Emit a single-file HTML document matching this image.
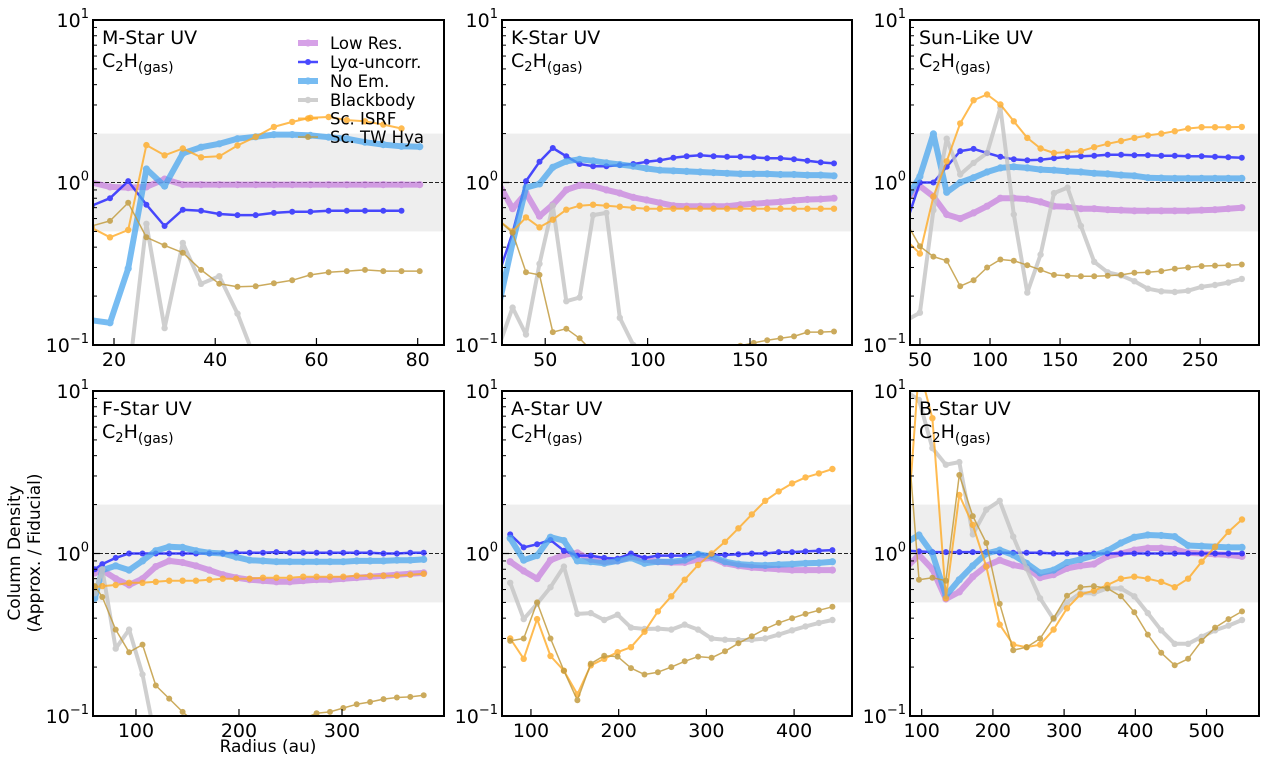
<!DOCTYPE html>
<html><head><meta charset="utf-8"><style>
html,body{margin:0;padding:0;background:#fff;}
svg{display:block;font-family:"DejaVu Sans","Liberation Sans",sans-serif;}
</style></head><body>
<svg id="fig" width="1268" height="765" viewBox="0 0 1268 765" xmlns="http://www.w3.org/2000/svg"></svg>
<script>
// ---- data (ratio Approx./Fiducial vs radius in au) ----
const seriesNames = ["Low Res.","Lyα-uncorr.","No Em.","Blackbody","Sc. ISRF","Sc. TW Hya"];
const yTickValues = [0.1,1,10];
const yTickExps = ["−1","0","1"];

const mX = [15.6,19.2,22.8,26.4,30.0,33.6,37.2,40.8,44.4,48.0,51.6,55.2,58.8,62.4,66.0,69.6,73.2,76.8,80.4];
const mLow = [1.0,0.94,0.93,0.94,1.05,0.97,0.97,0.97,0.97,0.97,0.97,0.97,0.97,0.97,0.97,0.97,0.97,0.97,0.97];
const mLya = [0.72,0.80,1.02,0.73,0.54,0.68,0.67,0.64,0.63,0.63,0.65,0.66,0.66,0.67,0.67,0.67,0.67,0.67,null];
const mNoEm = [0.142,0.137,0.296,1.21,0.95,1.51,1.65,1.73,1.86,1.91,1.97,1.97,1.95,1.9,1.86,1.77,1.71,1.67,1.66];
const mBB = [null,null,0.06,0.557,0.127,0.425,0.238,0.265,0.156,0.08,null,null,null,null,null,null,null,null,null];
const mISRF = [0.526,0.46,0.51,1.70,1.47,1.62,1.43,1.45,1.69,1.91,2.2,2.36,2.5,2.53,2.42,2.38,2.27,2.15,null];
const mTW = [0.54,0.58,0.75,0.46,0.41,0.37,0.29,0.238,0.228,0.23,0.24,0.25,0.27,0.28,0.285,0.29,0.285,0.285,0.285];
const mXTicks = [20,40,60,80];

const kX = [27.6,34.1,40.6,47.2,53.7,60.3,66.8,73.4,79.9,86.4,93.0,99.5,106.0,112.6,119.1,125.7,132.2,138.8,145.3,151.8,158.4,164.9,171.5,178.0,184.5,191.0];
const kLow = [0.97,0.69,0.86,0.62,0.73,0.90,0.96,0.95,0.90,0.86,0.81,0.78,0.75,0.72,0.715,0.715,0.715,0.715,0.73,0.74,0.75,0.76,0.775,0.786,0.79,0.80];
const kLya = [0.28,0.49,1.02,1.34,1.63,1.45,1.30,1.26,1.26,1.28,1.30,1.34,1.37,1.42,1.45,1.47,1.45,1.44,1.44,1.43,1.41,1.41,1.39,1.36,1.33,1.31];
const kNoEm = [0.18,0.425,0.93,0.98,1.24,1.35,1.39,1.36,1.32,1.29,1.26,1.22,1.19,1.18,1.17,1.16,1.15,1.14,1.13,1.13,1.13,1.12,1.12,1.11,1.11,1.10];
const kBB = [0.10,0.17,0.116,0.316,0.72,0.186,0.196,0.63,0.65,0.147,0.10,0.08,null,null,null,null,null,null,null,null,null,null,null,null,null,null];
const kISRF = [0.58,0.50,0.61,0.53,0.59,0.68,0.72,0.73,0.72,0.71,0.70,0.69,0.69,0.69,0.69,0.69,0.69,0.69,0.69,0.69,0.69,0.69,0.69,0.69,0.69,0.69];
const kTW = [0.58,0.49,0.28,0.27,0.12,0.126,0.11,0.09,0.085,0.08,0.075,0.07,0.07,0.07,0.072,0.075,0.08,0.085,0.099,0.103,0.107,0.11,0.113,0.12,0.12,0.121];
const kXTicks = [50,100,150];

const sX = [40.4,50,59.6,69.1,78.7,88.3,97.9,107.4,117,126.6,136.1,145.7,155.3,164.9,174.4,184,193.6,203.1,212.7,222.3,231.9,241.4,251,260.6,270.1,279.7];
const sLow = [0.79,0.95,0.82,0.635,0.60,0.65,0.715,0.80,0.80,0.79,0.76,0.715,0.71,0.69,0.69,0.68,0.675,0.67,0.67,0.67,0.67,0.67,0.675,0.68,0.69,0.70];
const sLya = [0.565,1.0,1.0,1.25,1.56,1.61,1.52,1.44,1.39,1.37,1.38,1.41,1.44,1.45,1.46,1.48,1.48,1.47,1.47,1.46,1.46,1.45,1.45,1.44,1.43,1.42];
const sNoEm = [0.79,1.09,1.99,0.87,1.0,1.07,1.16,1.23,1.25,1.23,1.20,1.19,1.17,1.16,1.14,1.13,1.11,1.10,1.07,1.065,1.06,1.06,1.06,1.06,1.06,1.06];
const sBB = [0.142,0.158,0.675,1.86,1.12,1.32,1.52,2.88,0.635,0.21,0.36,0.86,0.93,0.54,0.325,0.28,0.268,0.247,0.222,0.214,0.212,0.216,0.228,0.234,0.242,0.255];
const sISRF = [0.44,0.365,0.82,1.35,2.31,3.21,3.48,3.02,2.38,1.88,1.62,1.52,1.54,1.56,1.65,1.73,1.80,1.88,1.95,2.0,2.07,2.15,2.19,2.19,2.19,2.2];
const sTW = [0.565,0.405,0.35,0.33,0.23,0.25,0.30,0.336,0.33,0.31,0.29,0.27,0.267,0.265,0.265,0.267,0.27,0.278,0.28,0.285,0.295,0.30,0.306,0.308,0.31,0.313];
const sXTicks = [50,100,150,200,250];

const fX = [60,67.3,80.3,93.3,106.3,119.3,132.3,145.3,158.3,171.3,184.3,197.3,210.3,223.3,236.3,249.3,262.3,275.3,288.3,301.3,314.3,327.3,340.3,353.3,366.3,379.3];
const fLow = [0.76,0.79,0.70,0.64,0.70,0.83,0.90,0.88,0.84,0.79,0.74,0.71,0.69,0.68,0.67,0.67,0.68,0.69,0.69,0.70,0.71,0.72,0.73,0.74,0.75,0.76];
const fLya = [0.80,0.86,0.94,1.0,1.0,1.0,1.0,1.0,1.0,1.0,1.0,1.01,1.01,1.01,1.02,1.01,1.01,1.01,1.01,1.01,1.01,1.01,1.0,1.0,1.01,1.01];
const fNoEm = [0.53,0.79,0.84,0.79,0.90,1.04,1.10,1.09,1.04,1.01,1.0,0.95,0.91,0.90,0.89,0.89,0.89,0.89,0.89,0.89,0.90,0.90,0.90,0.91,0.91,0.92];
const fBB = [0.57,0.80,0.26,0.34,0.18,0.07,null,null,null,null,null,null,null,null,null,null,null,null,null,null,null,null,null,null,null,null];
const fISRF = [0.62,0.63,0.64,0.66,0.66,0.67,0.68,0.68,0.68,0.69,0.70,0.70,0.70,0.71,0.71,0.71,0.72,0.72,0.72,0.72,0.73,0.73,0.73,0.73,0.74,0.75];
const fTW = [0.63,0.54,0.34,0.247,0.275,0.154,0.128,0.106,0.09,0.085,0.08,0.078,0.078,0.08,0.085,0.09,0.096,0.104,0.106,0.112,0.118,0.122,0.127,0.13,0.131,0.134];
const fXTicks = [100,200,300];

const aX = [76.4,91.7,107,122.3,137.6,152.9,168.2,183.5,198.8,214.1,229.4,244.7,260,275.3,290.6,305.9,321.2,336.5,351.8,367.1,382.4,397.7,413,428.3,443.6];
const aLow = [0.89,0.78,0.70,0.91,0.98,1.01,0.92,0.89,0.90,0.96,0.92,0.89,0.88,0.88,0.92,0.94,0.87,0.84,0.82,0.81,0.80,0.79,0.79,0.79,0.79];
const aLya = [1.31,1.09,1.14,1.21,1.04,0.97,0.97,0.94,0.93,1.0,0.94,0.97,0.97,0.97,0.99,0.98,0.98,0.99,1.0,1.0,1.02,1.02,1.03,1.04,1.05];
const aNoEm = [1.24,0.91,0.97,1.26,1.20,0.90,0.89,0.87,0.90,0.94,0.87,0.89,0.89,0.91,0.99,0.96,0.89,0.86,0.85,0.845,0.855,0.86,0.87,0.875,0.89];
const aBB = [0.66,0.395,0.49,0.62,0.83,0.425,0.43,0.39,0.42,0.35,0.343,0.345,0.34,0.365,0.34,0.30,0.295,0.293,0.295,0.30,0.317,0.337,0.356,0.374,0.39];
const aISRF = [0.30,0.225,0.395,0.234,0.19,0.136,0.205,0.225,0.247,0.265,0.33,0.44,0.545,0.69,0.85,1.0,1.18,1.43,1.74,2.11,2.41,2.70,2.94,3.11,3.31];
const aTW = [0.29,0.30,0.50,0.30,0.19,0.125,0.21,0.235,0.232,0.197,0.18,0.186,0.20,0.217,0.232,0.228,0.25,0.28,0.31,0.343,0.374,0.40,0.425,0.447,0.47];
const aXTicks = [100,200,300,400];

const bX = [77.3,96.2,115.1,134,152.9,171.8,190.7,209.6,228.5,247.4,266.3,285.2,304.1,323,341.9,360.8,379.7,398.6,417.5,436.4,455.3,474.2,493.1,512,530.9,549.8];
const bLow = [0.81,0.98,0.80,0.525,0.58,0.72,0.84,0.91,0.85,0.82,0.71,0.74,0.81,0.84,0.86,0.96,1.0,1.05,1.08,1.08,1.06,1.01,1.0,0.99,0.98,0.96];
const bLya = [1.04,1.03,1.02,1.02,1.02,1.02,1.02,1.01,1.01,1.01,1.01,1.0,1.0,1.0,1.0,1.0,1.0,1.0,1.0,1.0,1.0,1.0,1.0,1.0,1.0,1.0];
const bNoEm = [1.16,1.30,1.0,0.55,0.69,0.84,1.0,1.05,0.98,0.87,0.76,0.79,0.88,0.92,0.97,1.04,1.16,1.26,1.30,1.29,1.27,1.12,1.11,1.10,1.09,1.09];
const bBB = [10,8.8,4.45,3.52,3.65,1.31,1.86,2.11,1.27,0.81,0.53,0.395,0.50,0.57,0.57,0.61,0.61,0.545,0.43,0.337,0.278,0.278,0.307,0.337,0.36,0.39];
const bISRF = [1.0,14,6.8,0.53,2.29,1.50,0.83,0.365,0.275,0.265,0.275,0.34,0.46,0.56,0.59,0.64,0.70,0.72,0.70,0.67,0.62,0.70,0.89,1.10,1.36,1.62];
const bTW = [8,0.69,0.71,0.68,3.04,1.70,1.16,0.49,0.254,0.265,0.30,0.40,0.55,0.62,0.63,0.61,0.545,0.435,0.317,0.245,0.205,0.225,0.29,0.35,0.395,0.44];
const bXTicks = [100,200,300,400,500];

// ---- layout / style (not data) ----
const styles = [
  {c:"#c57ade", w:6, r:3.6, o:0.7},
  {c:"#2a2aff", w:2.5, r:3, o:0.85},
  {c:"#4aa6ee", w:6, r:3.6, o:0.75},
  {c:"#c4c4c4", w:4, r:3.2, o:0.8},
  {c:"#ffab26", w:2, r:3.2, o:0.8},
  {c:"#c29c40", w:1.5, r:3, o:0.85}
];
const panels = [
  {name:"m-star", title:"M-Star UV", L:93, R:444, T:20, B:345, x0:15.85, x1:85.2, xs:mX, ser:[mLow,mLya,mNoEm,mBB,mISRF,mTW], ticks:mXTicks},
  {name:"k-star", title:"K-Star UV", L:502, R:852, T:20, B:345, x0:28.9, x1:199.8, xs:kX, ser:[kLow,kLya,kNoEm,kBB,kISRF,kTW], ticks:kXTicks},
  {name:"sun-like", title:"Sun-Like UV", L:910, R:1259, T:20, B:345, x0:42.9, x1:292, xs:sX, ser:[sLow,sLya,sNoEm,sBB,sISRF,sTW], ticks:sXTicks},
  {name:"f-star", title:"F-Star UV", L:93, R:444, T:391, B:716, x0:58.3, x1:399, xs:fX, ser:[fLow,fLya,fNoEm,fBB,fISRF,fTW], ticks:fXTicks},
  {name:"a-star", title:"A-Star UV", L:502, R:852, T:391, B:716, x0:67, x1:466, xs:aX, ser:[aLow,aLya,aNoEm,aBB,aISRF,aTW], ticks:aXTicks},
  {name:"b-star", title:"B-Star UV", L:910, R:1259, T:391, B:716, x0:83.6, x1:573.7, xs:bX, ser:[bLow,bLya,bNoEm,bBB,bISRF,bTW], ticks:bXTicks}
];

const NS = "http://www.w3.org/2000/svg";
const svg = document.getElementById("fig");
function mk(tag, attrs, parent){
  const e = document.createElementNS(NS, tag);
  for (const k in attrs) e.setAttribute(k, attrs[k]);
  (parent||svg).appendChild(e);
  return e;
}

panels.forEach((p, pi) => {
  const xScale = v => p.L + (v - p.x0) / (p.x1 - p.x0) * (p.R - p.L);
  const yScale = v => p.B - (Math.log10(v) + 1) / 2 * (p.B - p.T);
  const g = mk("g", {});
  
  
  const clipId = "clip" + pi;
  const cp = mk("clipPath", {id: clipId}, g);
  mk("rect", {x:p.L, y:p.T, width:p.R-p.L, height:p.B-p.T}, cp);

  const band = mk("rect", {x:p.L, y:yScale(2), width:p.R-p.L, height:yScale(0.5)-yScale(2), fill:"#eeeeee"}, g);
  
  
  const ref = mk("line", {x1:p.L, x2:p.R, y1:yScale(1), y2:yScale(1), stroke:"#222", "stroke-width":1, "stroke-dasharray":"4,2"}, g);
  
  

  const plot = mk("g", {"clip-path":"url(#"+clipId+")"}, g);
  p.ser.forEach((vals, si) => {
    const st = styles[si];
    const sg = mk("g", {opacity: st.o}, plot);
    
    
    let d = "", pen = false;
    vals.forEach((v, i) => {
      if (v === null) { pen = false; return; }
      d += (pen ? "L" : "M") + xScale(p.xs[i]).toFixed(1) + "," + yScale(v).toFixed(1);
      pen = true;
    });
    mk("path", {d:d, fill:"none", stroke:st.c, "stroke-width":st.w, "stroke-linejoin":"round"}, sg);
    vals.forEach((v, i) => {
      if (v === null) return;
      const c = mk("circle", {cx:xScale(p.xs[i]).toFixed(1), cy:yScale(v).toFixed(1), r:st.r, fill:st.c}, sg);
      
      
    });
  });

  for (let e = -1; e <= 0; e++) {
    for (let m = 2; m <= 9; m++) {
      const y = yScale(m * Math.pow(10, e));
      mk("line", {x1:p.L, x2:p.L+4, y1:y, y2:y, stroke:"#000", "stroke-width":1}, g);
    }
  }
  yTickValues.forEach((v, i) => {
    const y = yScale(v);
    mk("line", {x1:p.L, x2:p.L+7, y1:y, y2:y, stroke:"#000", "stroke-width":1.2}, g);
    const t = mk("text", {x:p.L-4, y:y+7, "text-anchor":"end", "font-size":19, fill:"#000"}, g);
    
    
    t.innerHTML = '10<tspan font-size="13" dy="-9">' + yTickExps[i] + '</tspan>';
  });
  p.ticks.forEach(v => {
    const x = xScale(v);
    mk("line", {x1:x, x2:x, y1:p.B, y2:p.B-7, stroke:"#000", "stroke-width":1.2}, g);
    const t = mk("text", {x:x, y:p.B+21, "text-anchor":"middle", "font-size":19, fill:"#000"}, g);
    
    
    t.textContent = v;
  });

  const fr = mk("rect", {x:p.L, y:p.T, width:p.R-p.L, height:p.B-p.T, fill:"none", stroke:"#000", "stroke-width":2}, g);
  
  

  const tt = mk("text", {x:p.L+9, y:p.T+24, "font-size":19, fill:"#000"}, g);
  
  
  tt.textContent = p.title;
  const sp = mk("text", {x:p.L+9, y:p.T+47, "font-size":19, fill:"#000"}, g);
  
  
  sp.innerHTML = 'C<tspan font-size="13" dy="4">2</tspan><tspan dy="-4">H</tspan><tspan font-size="14" dy="5">(gas)</tspan>';
});

const lg = mk("g", {});


const legendYs = [43, 62, 81, 100, 118.5, 137];
seriesNames.forEach((n, i) => {
  const st = styles[i];
  const eg = mk("g", {}, lg);
  
  
  const y = legendYs[i];
  const h = mk("g", {opacity: st.o}, eg);
  mk("line", {x1:298, x2:318, y1:y, y2:y, stroke:st.c, "stroke-width":st.w}, h);
  mk("circle", {cx:308, cy:y, r:st.r, fill:st.c}, h);
  const t = mk("text", {x:330, y:y+6, "font-size":16.5, fill:"#000"}, eg);
  t.textContent = n;
});

const xl = mk("text", {x:268, y:752, "text-anchor":"middle", "font-size":17, fill:"#000"});


xl.textContent = "Radius (au)";
const yl = mk("text", {transform:"translate(20,553) rotate(-90)", "text-anchor":"middle", "font-size":17, fill:"#000"});


yl.innerHTML = '<tspan x="0" dy="0">Column Density</tspan><tspan x="0" dy="20">(Approx. / Fiducial)</tspan>';
</script>
</body></html>
